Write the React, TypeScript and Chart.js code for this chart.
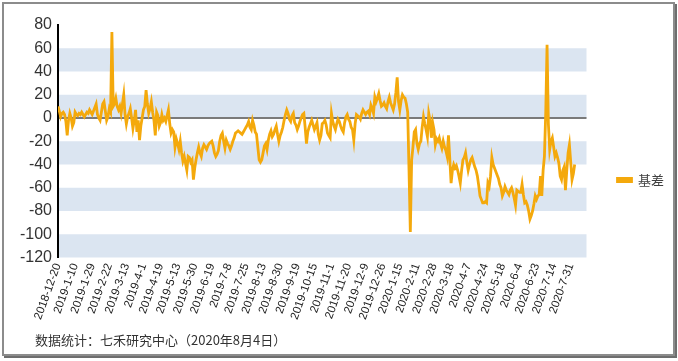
import React, { useEffect, useRef } from "react";
import { Chart, registerables } from "chart.js";

Chart.register(...registerables);

// Tick labels every 13 trading days
const tickLabels: string[] = [
  "2018-12-20", "2019-1-10", "2019-1-29", "2019-2-22", "2019-3-13", "2019-4-1",
  "2019-4-19", "2019-5-13", "2019-5-30", "2019-6-19", "2019-7-8", "2019-7-25",
  "2019-8-13", "2019-8-30", "2019-9-19", "2019-10-15", "2019-11-1", "2019-11-20",
  "2019-12-9", "2019-12-26", "2020-1-15", "2020-2-11", "2020-2-28", "2020-3-18",
  "2020-4-7", "2020-4-24", "2020-5-18", "2020-6-4", "2020-6-23", "2020-7-14",
  "2020-7-31",
];
const TICK_STEP = 13;
const X_MAX = 402;

const seriesName = "基差";

// 基差 per trading day
const basis: number[] = [
  10, 6, 1, 4, 5, 3, -3, -15, -2, 4, 0, -7, -4,
  5, 3, 2, 4, 3, 5, 3, 1, 3, 5, 4, 7, 5,
  3, 6, 9, 12, 3, 0, -2, 5, 12, 14, 6, -2, 1,
  8, 5, 74, 10, 12, 17, 10, 7, 10, 4, 12, 20, 3,
  -5, 1, 4, 8, 0, -9, -2, 7, -12, -2, -19, -7, 0,
  7, 10, 24, 12, 4, 8, 14, 5, -2, -15, 5, 2, -7,
  -4, 3, -2, 0, -3, 2, 7, -5, -13, -10, -12, -25, -18,
  -22, -27, -20, -30, -37, -33, -39, -45, -33, -34, -38, -36, -53,
  -43, -36, -30, -25, -30, -33, -26, -23, -25, -27, -24, -22, -21,
  -20, -24, -30, -33, -31, -28, -20, -15, -13, -20, -26, -19, -22,
  -24, -27, -24, -20, -17, -13, -12, -11, -12, -13, -14, -12, -10,
  -8, -6, -3, -8, -10, -2, -6, -12, -14, -25, -36, -38, -36,
  -30, -24, -22, -27, -19, -14, -11, -16, -14, -10, -7, -14, -20,
  -15, -12, -8, -2, 3, 7, 4, -1, -3, 2, 4, -4, -6,
  -10, -7, -3, 0, 3, 4, -8, -22, -12, -8, -5, -2, -6,
  -10, -7, -4, -14, -19, -15, -5, -4, -2, -6, -13, -15, -17,
  4, -3, -7, -10, -5, -1, -3, -7, -10, -12, -4, 1, 3,
  -1, -3, -8, -10, -19, -5, 3, 2, 1, -1, 4, 7, 5,
  3, 5, 6, 3, 11, 8, 4, 18, 14, 17, 21, 15, 10,
  11, 13, 10, 8, 14, 18, 13, 10, 7, 12, 22, 35, 14,
  7, 15, 20, 18, 17, 12, 5, -45, -98, -36, -25, -12, -10,
  -22, -27, -22, -20, -8, 1, -5, -10, -16, 4, -2, -17, -4,
  -10, -23, -18, -20, -17, -22, -26, -20, -25, -28, -33, -15, -35,
  -56, -45, -40, -43, -41, -45, -50, -56, -45, -36, -34, -30, -38,
  -45, -40, -36, -34, -38, -42, -45, -50, -58, -67, -70, -73, -73,
  -72, -73, -56, -59, -50, -34, -40, -43, -46, -49, -52, -57, -60,
  -67, -64, -59, -62, -64, -66, -62, -60, -64, -69, -75, -62, -63,
  -64, -64, -57, -66, -73, -72, -75, -80, -87, -84, -80, -74, -67,
  -70, -67, -66, -50, -67, -45, -33, 5, 63, -5, -27, -20, -17,
  -25, -33, -30, -34, -39, -50, -53, -45, -42, -62, -45, -30, -23,
  -38, -53, -48, -40,
];

// Shaded horizontal bands [low, high]
const bands: [number, number][] = [
  [40, 60], [0, 20], [-40, -20], [-80, -60], [-120, -100],
];

const LINE_COLOR = "#f4a90c";
const BAND_COLOR = "#dbe5f1";
const FONT = "'Liberation Sans', Arial, sans-serif";

const bandPlugin = {
  id: "bands",
  beforeDraw(chart: any) {
    const { ctx, chartArea, scales } = chart;
    const y = scales.y;
    const { left, right } = chartArea;
    ctx.save();
    ctx.fillStyle = BAND_COLOR;
    for (const [lo, hi] of bands) {
      const top = y.getPixelForValue(hi);
      const bot = y.getPixelForValue(lo);
      ctx.fillRect(left, top, right - left, bot - top);
    }
    const zy = Math.round(y.getPixelForValue(0));
    ctx.strokeStyle = "#7a7a7a";
    ctx.lineWidth = 2;
    ctx.beginPath();
    ctx.moveTo(left, zy);
    ctx.lineTo(right, zy);
    ctx.stroke();
    ctx.restore();
  },
};

export default function App() {
  const ref = useRef<HTMLCanvasElement | null>(null);

  useEffect(() => {
    if (!ref.current) return;
    const chart = new Chart(ref.current, {
      type: "line",
      data: {
        datasets: [
          {
            label: seriesName,
            data: basis.map((v, i) => ({ x: i, y: v })),
            borderColor: LINE_COLOR,
            backgroundColor: LINE_COLOR,
            borderWidth: 2.8,
            pointRadius: 0,
            tension: 0,
            fill: false,
          },
        ],
      },
      options: {
        animation: false,
        responsive: false,
        layout: { padding: { top: 25, right: 4, bottom: 26, left: 0 } },
        plugins: {
          legend: {
            position: "right",
            labels: {
              boxWidth: 14,
              boxHeight: 3,
              padding: 31,
              color: "#404040",
              font: { family: "'Noto Sans CJK SC', sans-serif", size: 13 },
            },
          },
          tooltip: { enabled: false },
        },
        scales: {
          x: {
            type: "linear",
            min: 0,
            max: X_MAX,
            grid: { display: false, drawTicks: false },
            border: { display: false },
            afterBuildTicks: (scale: any) => {
              scale.ticks = tickLabels.map((_, k) => ({ value: k * TICK_STEP }));
            },
            afterFit: (scale: any) => {
              scale.height = 77.5;
            },
            ticks: {
              autoSkip: false,
              minRotation: 70,
              maxRotation: 70,
              padding: 4,
              color: "#222",
              font: { family: FONT, size: 11.5 },
              callback: (value: any) => tickLabels[Math.round(Number(value) / TICK_STEP)] ?? "",
            },
          },
          y: {
            min: -120,
            max: 80,
            grid: { display: false, drawTicks: false },
            border: { display: true, color: "#000", width: 2 },
            afterFit: (scale: any) => {
              scale.width = 58;
            },
            ticks: {
              stepSize: 20,
              padding: 6,
              color: "#333",
              font: { family: FONT, size: 16 },
            },
          },
        },
      },
      plugins: [bandPlugin],
    });
    return () => chart.destroy();
  }, []);

  return (
    <div style={{ position: "absolute", left: 0, top: 0, width: 678, height: 361, background: "#fff" }}>
      <div
        style={{
          position: "absolute",
          left: 2,
          top: 2,
          width: 673,
          height: 354,
          boxSizing: "border-box",
          border: "2px solid #8c8c8c",
          boxShadow: "2px 2px 0 #6e6e6e",
        }}
      />
      <canvas ref={ref} width={678} height={361} style={{ position: "absolute", left: 0, top: 0 }} />
      <div
        style={{
          position: "absolute",
          left: 35,
          top: 332,
          fontFamily: "'Noto Sans CJK SC', sans-serif",
          fontSize: 13,
          lineHeight: "16px",
          color: "#333",
          whiteSpace: "nowrap",
        }}
      >
        数据统计：七禾研究中心（2020年8月4日）
      </div>
    </div>
  );
}
